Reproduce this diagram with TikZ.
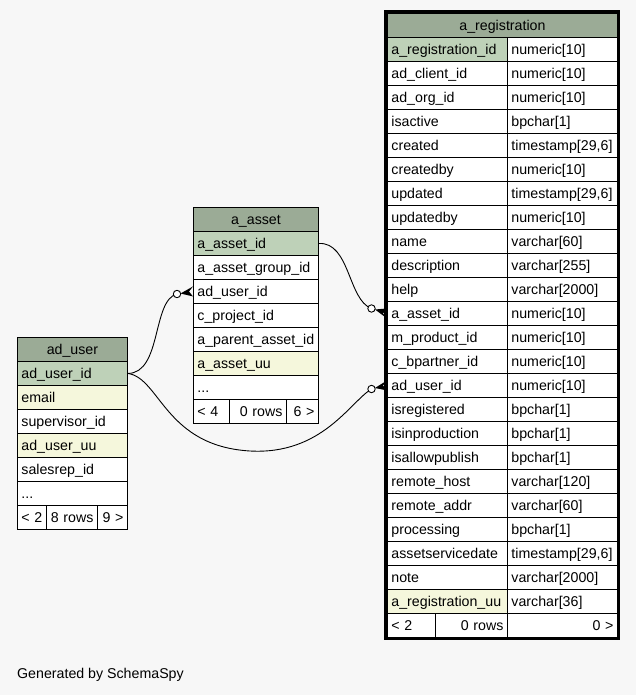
\documentclass[tikz,border=0pt]{standalone}
\usepackage{fontspec}
\setmainfont{Liberation Sans}
\usetikzlibrary{calc}
\definecolor{bgc}{HTML}{F7F7F7}
\definecolor{hdr}{HTML}{9BAB96}
\definecolor{pk}{HTML}{BED1B8}
\definecolor{idx}{HTML}{F5F7DC}
\newcommand\tblfont{\fontsize{14.2}{16}\selectfont}
\newcommand\tdots{...}
\hyphenpenalty=10000
\newcommand\crowfoot[2]{\fill[black] (#1) -- ($(#2)+(0,-5)$) -- ($(#2)+(-4,0)$) -- ($(#2)+(0,5)$) -- cycle;}
\begin{document}
\begin{tikzpicture}[x=1pt,y=-1pt,
  cell/.style={draw=black, line width=0.9pt, anchor=north west, inner xsep=4pt, inner ysep=0pt,
    minimum height=24pt, text height=12pt, text depth=2pt, font=\tblfont},
  lcell/.style={cell, align=left},
  rcell/.style={cell, align=right},
  hcell/.style={cell, align=center, fill=hdr},
  conn/.style={line width=0.9pt, draw=black},
  odot/.style={draw=black, line width=0.9pt, fill=white},
]
\fill[bgc] (0,0) rectangle (636,695);
\useasboundingbox (0,0) rectangle (636,695);

% ---------- connector anchor coordinates ----------
\coordinate (o1) at (371.5,308.5);
\coordinate (o2) at (177,294);
\coordinate (o3) at (371.5,389);

% ---------- a_registration ----------
\node[hcell, text width=222pt] (regh) at (387,13) {a\_registration};
\foreach [count=\i] \n/\t/\c in {
  a\_registration\_id/numeric[10]/pk,
  ad\_client\_id/numeric[10]/white,
  ad\_org\_id/numeric[10]/white,
  isactive/bpchar[1]/white,
  created/{timestamp[29,6]}/white,
  createdby/numeric[10]/white,
  updated/{timestamp[29,6]}/white,
  updatedby/numeric[10]/white,
  name/varchar[60]/white,
  description/varchar[255]/white,
  help/varchar[2000]/white,
  a\_asset\_id/numeric[10]/white,
  m\_product\_id/numeric[10]/white,
  c\_bpartner\_id/numeric[10]/white,
  ad\_user\_id/numeric[10]/white,
  isregistered/bpchar[1]/white,
  isinproduction/bpchar[1]/white,
  isallowpublish/bpchar[1]/white,
  remote\_host/varchar[120]/white,
  remote\_addr/varchar[60]/white,
  processing/bpchar[1]/white,
  assetservicedate/{timestamp[29,6]}/white,
  note/varchar[2000]/white,
  a\_registration\_uu/varchar[36]/idx}{
  \node[lcell, fill=\c, text width=112pt] (regn\i) at (387,{37+(\i-1)*24}) {\n};
  \node[lcell, fill=white, text width=102pt] (regt\i) at (507,{37+(\i-1)*24}) {\t};
}
\node[lcell, fill=white, text width=40pt] (regf1) at (387,613) {< 2};
\node[rcell, fill=white, text width=64pt] (regf2) at (435,613) {0 rows};
\node[rcell, fill=white, text width=102pt] (regf3) at (507,613) {0 >};

% ---------- a_asset ----------
\node[hcell, text width=117pt] (ash) at (193,207) {a\_asset};
\foreach [count=\i] \n/\c in {
  a\_asset\_id/pk,
  a\_asset\_group\_id/white,
  ad\_user\_id/white,
  c\_project\_id/white,
  a\_parent\_asset\_id/white,
  a\_asset\_uu/idx,
  \tdots/white}{
  \node[lcell, fill=\c, text width=117pt] (asn\i) at (193,{231+(\i-1)*24}) {\n};
}
\node[lcell, fill=white, text width=28pt] (asf1) at (193,399) {< 4};
\node[rcell, fill=white, text width=49pt] (asf2) at (229,399) {0 rows};
\node[rcell, fill=white, text width=24pt] (asf3) at (286,399) {6 >};

% ---------- ad_user ----------
\node[hcell, text width=102pt] (auh) at (17,337) {ad\_user};
\foreach [count=\i] \n/\c in {
  ad\_user\_id/pk,
  email/idx,
  supervisor\_id/white,
  ad\_user\_uu/idx,
  salesrep\_id/white,
  \tdots/white}{
  \node[lcell, fill=\c, text width=102pt] (aun\i) at (17,{361+(\i-1)*24}) {\n};
}
\node[lcell, fill=white, text width=21pt] (auf1) at (17,505) {< 2};
\node[rcell, fill=white, text width=43pt] (auf2) at (46,505) {8 rows};
\node[rcell, fill=white, text width=22pt] (auf3) at (97,505) {9 >};

% ---------- connectors ----------
\draw[conn] (asn1.east) .. controls (350,242) and (348,300) .. (o1);
\draw[conn] (aun1.east) .. controls (162,373) and (152,300) .. (o2);
\draw[conn] (aun1.east) .. controls (160,378) and (165,446) .. (250,451)
                        .. controls (322,455) and (350,402) .. (o3);
\crowfoot{$(o1)+(3.5,1)$}{regn12.west}
\crowfoot{$(o2)+(3.5,-0.5)$}{asn3.west}
\crowfoot{$(o3)+(3.5,-1)$}{regn15.west}
\draw[odot] (o1) circle (3.7);
\draw[odot] (o2) circle (3.7);
\draw[odot] (o3) circle (3.7);
\draw[line width=3pt] (385.5,11.5) rectangle (618.5,638.5);

% ---------- footer ----------
\node[anchor=west, inner sep=0pt, font=\tblfont] (gen) at (17,675) {Generated by SchemaSpy};
\end{tikzpicture}
\end{document}
